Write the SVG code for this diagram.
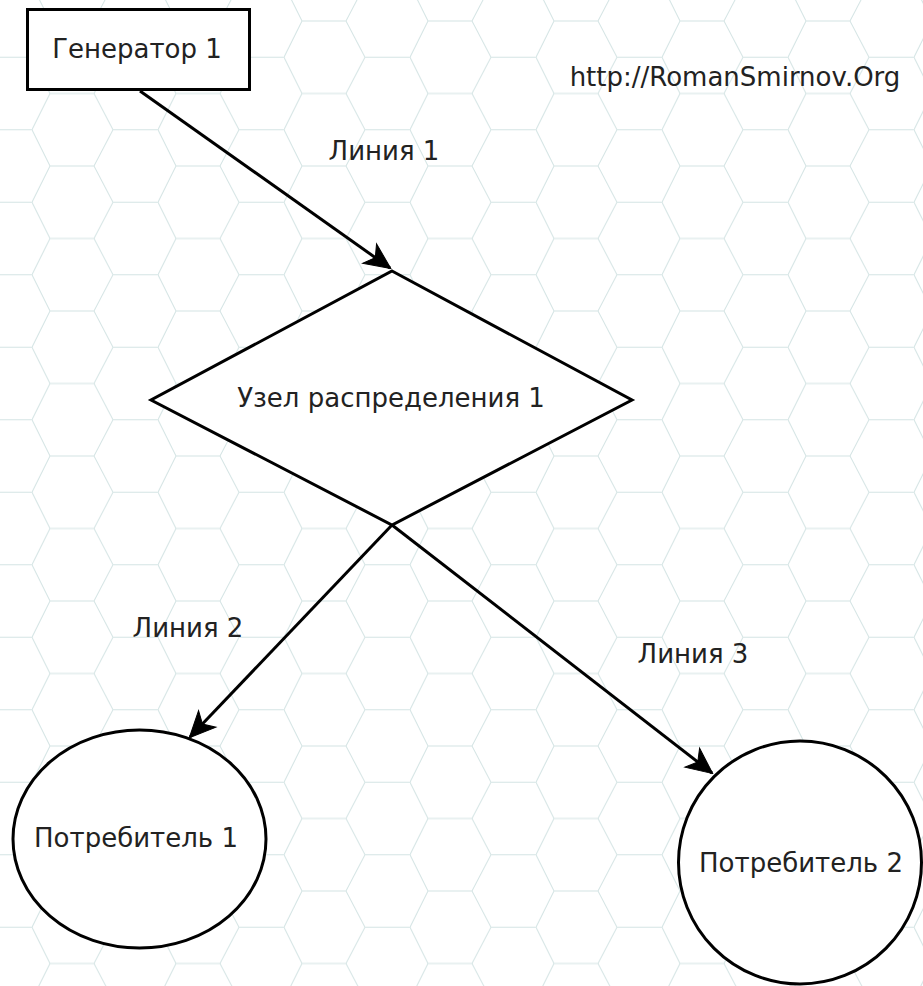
<svg xmlns="http://www.w3.org/2000/svg" width="923" height="986" viewBox="0 0 923 986">
<style>
.node{fill:#ffffff;stroke:#000000;stroke-width:3}
.lbl{font-family:"DejaVu Sans","Liberation Sans",sans-serif;font-size:26px;fill:#222222;text-anchor:middle}
.conn{stroke:#000000;stroke-width:3;fill:none;marker-end:url(#arr)}
</style>
<defs>
<pattern id="hex" patternUnits="userSpaceOnUse" x="32" y="21" width="126" height="72.5">
<path d="M18,0 L62,0 L81,36.25 L62,72.5 L18,72.5 L0,36.25 Z M81,36.25 L126,36.25" fill="none" stroke="#d4e4e4" stroke-width="1"/>
</pattern>
<marker id="arr" markerUnits="userSpaceOnUse" viewBox="-30 -15 32 30" markerWidth="32" markerHeight="30" refX="0" refY="0" orient="auto">
<path d="M1,0 L-25,-12 L-18,0 L-25,12 Z" fill="#000000" stroke="#000000" stroke-width="1"/>
</marker>
</defs>
<rect width="923" height="986" fill="#ffffff"/>
<rect width="923" height="986" fill="url(#hex)"/>
<g id="gen1">
<rect class="node" x="27.5" y="9.5" width="222" height="80"/>
<text class="lbl" x="137" y="58">Генератор 1</text>
</g>
<g id="node1">
<polygon class="node" points="392,271 632,400 392,525 151,400" stroke-width="2.8"/>
<text class="lbl" x="391" y="407">Узел распределения 1</text>
</g>
<g id="cons1">
<ellipse class="node" cx="139.5" cy="839" rx="126.5" ry="109"/>
<text class="lbl" x="136" y="847">Потребитель 1</text>
</g>
<g id="cons2">
<ellipse class="node" cx="800" cy="862.5" rx="121.5" ry="121.5"/>
<text class="lbl" x="801" y="872">Потребитель 2</text>
</g>
<g id="url">
<text class="lbl" x="735" y="86">http://RomanSmirnov.Org</text>
</g>
<g id="connectors">
<line class="conn" x1="140" y1="91" x2="390" y2="268"/>
<line class="conn" x1="392" y1="525" x2="190" y2="737"/>
<line class="conn" x1="392" y1="525" x2="712" y2="773"/>
<text class="lbl" x="384" y="160">Линия 1</text>
<text class="lbl" x="188" y="637">Линия 2</text>
<text class="lbl" x="693" y="663">Линия 3</text>
</g>
</svg>
